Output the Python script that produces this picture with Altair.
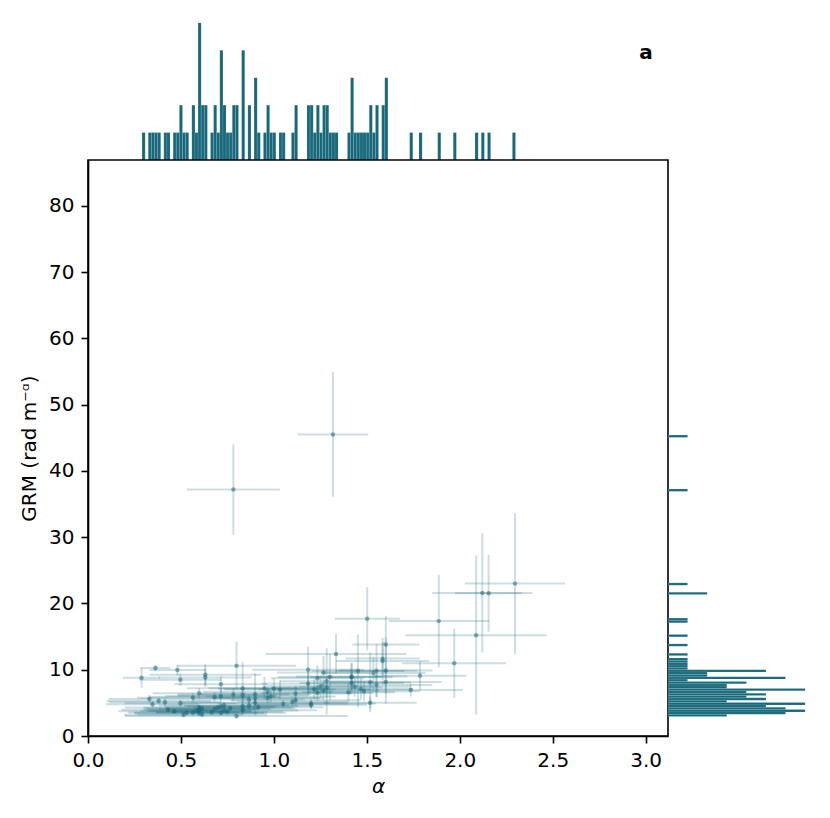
import altair as alt
import pandas as pd

# ---- data ----
alpha = [0.288, 0.330, 0.347, 0.363, 0.380, 0.414, 0.430, 0.464, 0.481, 0.497,
         0.497, 0.514, 0.531, 0.564, 0.564, 0.581, 0.598, 0.598, 0.598, 0.598,
         0.598, 0.614, 0.614, 0.631, 0.631, 0.665, 0.681, 0.681, 0.698, 0.715,
         0.715, 0.715, 0.715, 0.732, 0.732, 0.748, 0.765, 0.782, 0.782, 0.799,
         0.799, 0.832, 0.832, 0.832, 0.832, 0.866, 0.866, 0.899, 0.899, 0.899,
         0.916, 0.949, 0.966, 0.966, 0.983, 1.000, 1.033, 1.050, 1.100, 1.117,
         1.117, 1.184, 1.184, 1.200, 1.200, 1.217, 1.234, 1.234, 1.251, 1.267,
         1.267, 1.284, 1.284, 1.301, 1.318, 1.334, 1.401, 1.418, 1.418, 1.418,
         1.435, 1.452, 1.468, 1.502, 1.485, 1.518, 1.518, 1.535, 1.552, 1.552,
         1.585, 1.585, 1.602, 1.602, 1.602, 1.736, 1.786, 1.887, 1.970, 2.088,
         2.121, 2.155, 2.297]
alpha_err = [0.10, 0.22, 0.25, 0.08, 0.28, 0.30, 0.25, 0.30, 0.15, 0.22,
             0.30, 0.32, 0.28, 0.30, 0.35, 0.30, 0.25, 0.35, 0.30, 0.40,
             0.28, 0.35, 0.30, 0.30, 0.25, 0.30, 0.35, 0.30, 0.40, 0.30,
             0.25, 0.35, 0.30, 0.40, 0.35, 0.30, 0.35, 0.30, 0.25, 0.32,
             0.60, 0.30, 0.35, 0.40, 0.30, 0.35, 0.30, 0.30, 0.35, 0.40,
             0.35, 0.30, 0.35, 0.30, 0.35, 0.30, 0.30, 0.35, 0.30, 0.35,
             0.30, 0.30, 0.25, 0.35, 0.30, 0.30, 0.25, 0.30, 0.28, 0.25,
             0.30, 0.25, 0.30, 0.28, 0.19, 0.38, 0.25, 0.30, 0.28, 0.22,
             0.30, 0.25, 0.28, 0.175, 0.30, 0.22, 0.25, 0.28, 0.22, 0.30,
             0.25, 0.20, 0.18, 0.25, 0.30, 0.28, 0.25, 0.27, 0.28, 0.38,
             0.27, 0.18, 0.27]
grm = [8.78, 5.60, 4.80, 10.26, 5.30, 5.08, 3.95, 3.75, 9.95, 8.50,
       4.95, 3.20, 3.55, 5.78, 3.55, 3.82, 6.45, 3.45, 4.00, 4.30,
       3.78, 3.25, 4.12, 9.25, 8.82, 3.60, 5.88, 4.08, 4.25, 6.05,
       7.80, 3.50, 4.45, 3.85, 4.62, 3.65, 4.18, 6.25, 37.2, 10.62,
       3.00, 7.20, 6.12, 3.88, 4.50, 4.55, 5.52, 6.32, 5.68, 5.00,
       4.35, 7.22, 6.68, 5.72, 5.95, 7.15, 7.00, 4.85, 5.18, 5.40,
       6.40, 10.00, 7.88, 4.90, 4.70, 7.05, 8.70, 6.50, 7.50, 9.60,
       6.85, 8.25, 7.32, 8.90, 45.5, 12.39, 6.60, 8.97, 8.00, 8.86,
       7.42, 9.80, 7.10, 17.7, 6.75, 8.08, 5.03, 9.50, 9.85, 7.70,
       11.32, 11.68, 13.8, 9.90, 8.15, 6.95, 9.10, 17.34, 10.97, 15.22,
       21.6, 21.55, 23.0]
grm_err = [1.5, 0.6, 0.5, 0.5, 0.5, 0.6, 0.4, 0.4, 0.8, 0.9,
           0.5, 0.4, 0.4, 0.7, 0.4, 0.4, 0.8, 0.4, 0.5, 0.4,
           0.4, 0.4, 0.5, 1.6, 1.4, 0.4, 0.7, 0.4, 0.5, 0.9,
           1.2, 0.4, 0.5, 0.4, 0.5, 0.4, 0.4, 1.0, 6.8, 3.6,
           0.4, 4.0, 1.2, 0.5, 0.5, 0.6, 0.7, 3.2, 0.8, 0.6,
           0.5, 1.7, 1.0, 0.8, 0.9, 1.5, 1.4, 0.6, 0.8, 0.8,
           1.2, 3.5, 1.8, 0.7, 0.6, 1.5, 2.0, 1.2, 1.6, 2.5,
           1.4, 5.0, 1.6, 3.5, 9.4, 3.0, 1.4, 2.0, 1.7, 2.2,
           1.5, 5.5, 1.6, 4.8, 1.5, 4.5, 0.9, 2.5, 4.0, 1.8,
           3.5, 2.5, 4.3, 5.0, 1.7, 1.0, 2.2, 7.0, 5.2, 12.0,
           9.0, 5.8, 10.6]
panel_label = ["a"]

x_ticks = [0.0, 0.5, 1.0, 1.5, 2.0, 2.5, 3.0]
y_ticks = [0, 10, 20, 30, 40, 50, 60, 70, 80]

df = pd.DataFrame({"alpha": alpha, "alpha_err": alpha_err,
                   "grm": grm, "grm_err": grm_err})
lab = pd.DataFrame({"label": panel_label})

COLOR = "#16687a"
FONT = "DejaVu Sans"
W, H, HW = 580, 576, 144
NBINS = 120

xscale = alt.Scale(domain=[0, 3.12], nice=False, zero=False)
yscale = alt.Scale(domain=[0, 86.94], nice=False, zero=False)

xaxis = alt.Axis(values=x_ticks, format=".1f", grid=False, labelFontSize=20,
                 titleFontSize=20, titleFontStyle="italic", titleFontWeight="normal",
                 tickSize=7, tickWidth=1.6, tickColor="black", domainColor="black",
                 domainWidth=1.6, labelColor="black", titleColor="black",
                 labelPadding=7, titlePadding=6, labelFlush=False, labelFont=FONT,
                 titleFont=FONT)
yaxis = alt.Axis(values=y_ticks, format="d", grid=False, labelFontSize=20,
                 titleFontSize=20, titleFontWeight="normal",
                 tickSize=7, tickWidth=1.6, tickColor="black", domainColor="black",
                 domainWidth=1.6, labelColor="black", titleColor="black",
                 labelPadding=7, titlePadding=9, labelFlush=False, labelFont=FONT,
                 titleFont=FONT)

base = alt.Chart(df)

xerr = base.transform_calculate(
    lo="datum.alpha - datum.alpha_err", hi="datum.alpha + datum.alpha_err"
).mark_rule(color=COLOR, opacity=0.22, strokeWidth=2).encode(
    x=alt.X("lo:Q", scale=xscale, axis=xaxis, title="α"),
    x2="hi:Q",
    y=alt.Y("grm:Q", scale=yscale, axis=yaxis, title="GRM (rad m⁻ᵅ)"),
)
yerr = base.transform_calculate(
    ylo="datum.grm - datum.grm_err", yhi="datum.grm + datum.grm_err"
).mark_rule(color=COLOR, opacity=0.22, strokeWidth=2).encode(
    x=alt.X("alpha:Q", scale=xscale),
    y=alt.Y("ylo:Q", scale=yscale),
    y2="yhi:Q",
)
pts = base.mark_circle(color=COLOR, opacity=0.5, size=20).encode(
    x=alt.X("alpha:Q", scale=xscale),
    y=alt.Y("grm:Q", scale=yscale),
)
main = alt.layer(xerr, yerr, pts).properties(
    width=W, height=H, view=alt.ViewBackground(stroke="black", strokeWidth=1.6)
)

amin, amax = min(alpha), max(alpha)
gmin, gmax = min(grm), max(grm)

top_bars = base.mark_bar(color=COLOR, binSpacing=0, stroke="white", clip=True,
                         strokeWidth=0.3, strokeOpacity=0.4).encode(
    x=alt.X("alpha:Q", bin=alt.Bin(extent=[amin, amax], step=(amax - amin) / NBINS, nice=False),
            scale=xscale, axis=None),
    y=alt.Y("count():Q", scale=alt.Scale(domain=[0, 5.25], nice=False), axis=None),
)
top_label = alt.Chart(lab).mark_text(fontSize=20, fontWeight="bold", font=FONT,
                                     color="black", align="center", baseline="middle").encode(
    text="label:N", x=alt.value(558), y=alt.value(37)
)
top = alt.layer(top_bars, top_label).properties(width=W, height=HW)

right = base.mark_bar(color=COLOR, binSpacing=0, stroke="white", clip=True,
                      strokeWidth=0.3, strokeOpacity=0.4).encode(
    y=alt.Y("grm:Q", bin=alt.Bin(extent=[gmin, gmax], step=(gmax - gmin) / NBINS, nice=False),
            scale=yscale, axis=None),
    x=alt.X("count():Q", scale=alt.Scale(domain=[0, 7.35], nice=False), axis=None),
).properties(width=HW, height=H)

chart = alt.vconcat(
    top,
    alt.hconcat(main, right, spacing=0, bounds="flush"),
    spacing=0, bounds="flush",
).properties(
    padding={"left": 10, "top": 8, "right": 0, "bottom": 0}
).configure(font=FONT).configure_view(stroke=None)

chart.save("out.html", embed_options={"renderer": "svg", "actions": False})
